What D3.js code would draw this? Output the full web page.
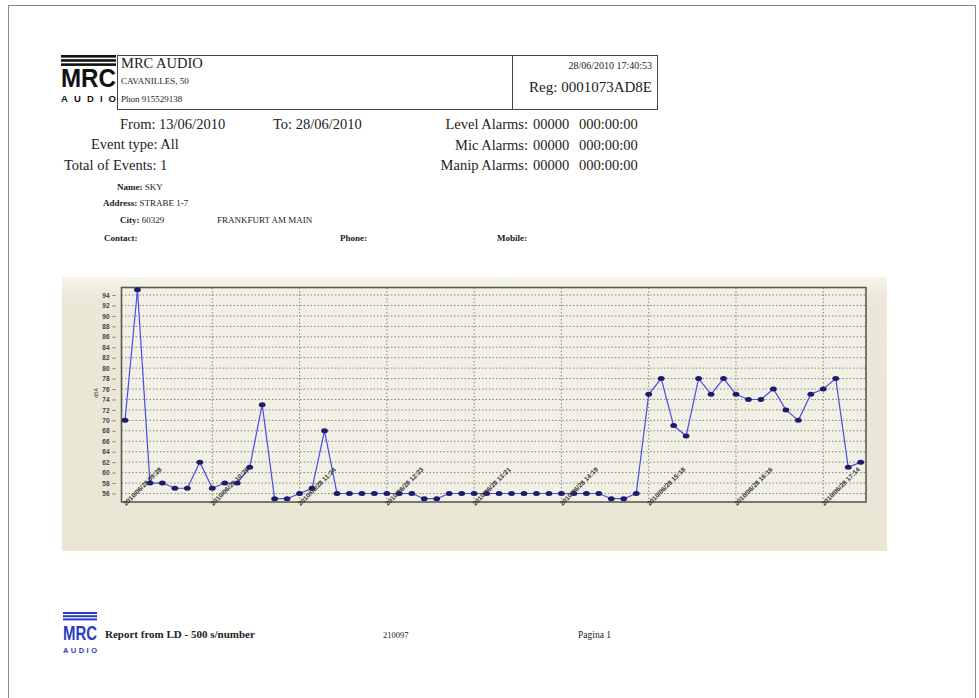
<!DOCTYPE html>
<html>
<head>
<meta charset="utf-8">
<script src="https://cdn.jsdelivr.net/npm/d3@7"></script>
<style>
  body { margin: 0; background: #fff; }
  svg text { font-family: "Liberation Serif", "Times New Roman", serif; }
</style>
</head>
<body>
<div id="chart"></div>
<script>
// sound level per 500 s slot (dBA)
var levels = [70, 95, 58, 58, 57, 57, 62, 57, 58, 58,
              61, 73, 55, 55, 56, 57, 68, 56, 56, 56,
              56, 56, 56, 56, 55, 55, 56, 56, 56, 56,
              56, 56, 56, 56, 56, 56, 56, 56, 56, 55,
              55, 56, 75, 78, 69, 67, 78, 75, 78, 75,
              74, 74, 76, 72, 70, 75, 76, 78, 61, 62];

// one label every 7 slots
var labelIdx = [0, 7, 14, 21, 28, 35, 42, 49, 56];
var xLabels = ["2010/06/28 09:28", "2010/06/28 10:26", "2010/06/28 11:24",
               "2010/06/28 12:23", "2010/06/28 13:21", "2010/06/28 14:19",
               "2010/06/28 15:18", "2010/06/28 16:16", "2010/06/28 17:14"];

var yTicks = [56, 58, 60, 62, 64, 66, 68, 70, 72, 74, 76, 78, 80, 82, 84, 86, 88, 90, 92, 94];

var svgWidth = 979;
var svgHeight = 698;

var svg = d3.select("#chart")
  .append("svg")
  .attr("width", svgWidth)
  .attr("height", svgHeight);

// page frame
svg.append("rect")
  .attr("x", 8.5).attr("y", 5.5)
  .attr("width", 967).attr("height", 700)
  .attr("fill", "#fff")
  .attr("stroke", "#8a8a8a");

// ---------- header ----------
// logo: three bars, MRC, AUDIO
function logo(g, color, w, bar, big, mrcBase, small, audioBase) {
  [0, 1, 2].forEach(function(k) {
    g.append("rect").attr("x", 0).attr("y", k * bar * 1.6)
      .attr("width", w).attr("height", bar).attr("fill", color);
  });
  g.append("text").attr("x", 0).attr("y", mrcBase)
    .style("font-family", "Liberation Sans, Arial, sans-serif")
    .style("font-weight", "bold").style("font-size", big + "px")
    .attr("textLength", w).attr("lengthAdjust", "spacingAndGlyphs")
    .attr("fill", color).text("MRC");
  g.append("text").attr("x", 0).attr("y", audioBase)
    .style("font-family", "Liberation Sans, Arial, sans-serif")
    .style("font-weight", "900").style("font-size", small + "px")
    .attr("textLength", w).attr("fill", color).text("AUDIO");
}

logo(svg.append("g").attr("transform", "translate(61,55)"), "#111", 55, 2.6, 26, 32, 9.5, 47);

svg.append("rect").attr("x", 117.5).attr("y", 55.5)
  .attr("width", 540).attr("height", 54)
  .attr("fill", "none").attr("stroke", "#444");
svg.append("line").attr("x1", 512.5).attr("x2", 512.5)
  .attr("y1", 55.5).attr("y2", 109.5).attr("stroke", "#444");

var head = svg.append("g").attr("fill", "#222");
head.append("text").attr("x", 121).attr("y", 68).style("font-size", "14.5px").text("MRC AUDIO");
head.append("text").attr("x", 121).attr("y", 84).style("font-size", "9px").text("CAVANILLES, 50");
head.append("text").attr("x", 121).attr("y", 102).style("font-size", "9px").text("Phon 915529138");
head.append("text").attr("x", 652).attr("y", 69).attr("text-anchor", "end")
  .style("font-size", "10px").text("28/06/2010 17:40:53");
head.append("text").attr("x", 652).attr("y", 92).attr("text-anchor", "end")
  .style("font-size", "15px").text("Reg: 0001073AD8E");

var rows = head.append("g").style("font-size", "14.5px");
rows.append("text").attr("x", 120).attr("y", 129).text("From: 13/06/2010");
rows.append("text").attr("x", 273).attr("y", 129).text("To: 28/06/2010");
rows.append("text").attr("x", 91).attr("y", 149).text("Event type: All");
rows.append("text").attr("x", 64).attr("y", 170).text("Total of Events: 1");

var alarms = ["Level Alarms:", "Mic Alarms:", "Manip Alarms:"];
alarms.forEach(function(a, i) {
  var y = 129 + i * 20.5;
  rows.append("text").attr("x", 528).attr("y", y).attr("text-anchor", "end").text(a);
  rows.append("text").attr("x", 533).attr("y", y).text("00000");
  rows.append("text").attr("x", 579).attr("y", y).text("000:00:00");
});

var info = head.append("g").style("font-size", "9px");
function field(x, y, label, value) {
  var t = info.append("text").attr("x", x).attr("y", y);
  t.append("tspan").style("font-weight", "bold").text(label);
  if (value) t.append("tspan").text(value);
}
field(117, 190, "Name: ", "SKY");
field(103, 206, "Address: ", "STRABE 1-7");
field(120, 223, "City: ", "60329");
info.append("text").attr("x", 217).attr("y", 223).text("FRANKFURT AM MAIN");
field(104, 241, "Contact:", "");
field(340, 241, "Phone:", "");
field(497, 241, "Mobile:", "");

// ---------- chart panel ----------
var defs = svg.append("defs");
var grad = defs.append("linearGradient").attr("id", "panel")
  .attr("x1", 0).attr("x2", 0).attr("y1", 0).attr("y2", 1);
grad.append("stop").attr("offset", "0%").attr("stop-color", "#f6f4ea");
grad.append("stop").attr("offset", "8%").attr("stop-color", "#ebe8d8");
grad.append("stop").attr("offset", "100%").attr("stop-color", "#e9e6d5");

svg.append("rect").attr("x", 62).attr("y", 277)
  .attr("width", 825).attr("height", 274)
  .attr("fill", "url(#panel)");

var plot = { left: 121.5, right: 866, top: 287.5, bottom: 502 };

svg.append("rect").attr("x", plot.left).attr("y", plot.top)
  .attr("width", plot.right - plot.left).attr("height", plot.bottom - plot.top)
  .attr("fill", "#f2f0e4");

var xScale = d3.scaleLinear()
  .domain([0, levels.length - 1])
  .range([125, 860.7]);

var yScale = d3.scaleLinear()
  .domain([54.37, 95.44])
  .range([plot.bottom, plot.top]);

// grid
svg.append("g").selectAll("line").data(yTicks).enter().append("line")
  .attr("x1", plot.left).attr("x2", plot.right)
  .attr("y1", d => yScale(d)).attr("y2", d => yScale(d))
  .attr("stroke", "#858585").attr("stroke-width", 1)
  .attr("stroke-dasharray", "1.5,2");

svg.append("g").selectAll("line").data(labelIdx.slice(1)).enter().append("line")
  .attr("x1", d => xScale(d)).attr("x2", d => xScale(d))
  .attr("y1", plot.top).attr("y2", plot.bottom)
  .attr("stroke", "#858585").attr("stroke-width", 1)
  .attr("stroke-dasharray", "1.5,2");

// y axis
var leftAxis = d3.axisLeft(yScale).tickValues(yTicks).tickSize(3).tickPadding(3);
var yAxisG = svg.append("g")
  .attr("transform", `translate(${plot.left - 6}, 0)`)
  .call(leftAxis);
yAxisG.select(".domain").remove();
yAxisG.selectAll("line").attr("stroke", "#777");
yAxisG.selectAll("text")
  .style("font-family", "Liberation Sans, Arial, sans-serif")
  .style("font-size", "6.5px").style("font-weight", "bold").attr("fill", "#444");

svg.append("text")
  .attr("transform", "translate(98, 393) rotate(-90)")
  .attr("text-anchor", "middle")
  .style("font-family", "Liberation Sans, Arial, sans-serif")
  .style("font-size", "5px").attr("fill", "#333")
  .text("dBA");

// plot border
svg.append("rect").attr("x", plot.left).attr("y", plot.top)
  .attr("width", plot.right - plot.left).attr("height", plot.bottom - plot.top)
  .attr("fill", "none").attr("stroke", "#5b5b55").attr("stroke-width", 1.6);

// line + markers
var line = d3.line()
  .x((d, i) => xScale(i))
  .y(d => yScale(d));

svg.append("path")
  .datum(levels)
  .attr("d", line)
  .attr("fill", "none")
  .attr("stroke", "#4b4be6")
  .attr("stroke-width", 1.2);

svg.append("g").selectAll("ellipse")
  .data(levels)
  .enter()
  .append("ellipse")
  .attr("cx", (d, i) => xScale(i))
  .attr("cy", d => yScale(d))
  .attr("rx", 3.4)
  .attr("ry", 2.5)
  .attr("fill", "#1d1b6b");

// x labels, rotated, starting at the axis
svg.append("g").selectAll("text")
  .data(labelIdx)
  .enter()
  .append("text")
  .attr("transform", d => `translate(${xScale(d) + 1}, ${plot.bottom + 4}) rotate(-45)`)
  .style("font-family", "Liberation Sans, Arial, sans-serif")
  .style("font-size", "6.5px")
  .style("font-weight", "bold")
  .attr("fill", "#333")
  .text((d, i) => xLabels[i]);

// ---------- footer ----------
logo(svg.append("g").attr("transform", "translate(63,612)"), "#2b3cc4", 34, 2, 21, 28, 7.5, 41);

var foot = svg.append("g").attr("fill", "#222");
foot.append("text").attr("x", 105).attr("y", 638).style("font-weight", "bold")
  .style("font-size", "11px").text("Report from LD - 500 s/number");
foot.append("text").attr("x", 383).attr("y", 638).style("font-size", "8.5px").text("210097");
foot.append("text").attr("x", 578).attr("y", 638).style("font-size", "9.5px").text("Pagina 1");
</script>
</body>
</html>
